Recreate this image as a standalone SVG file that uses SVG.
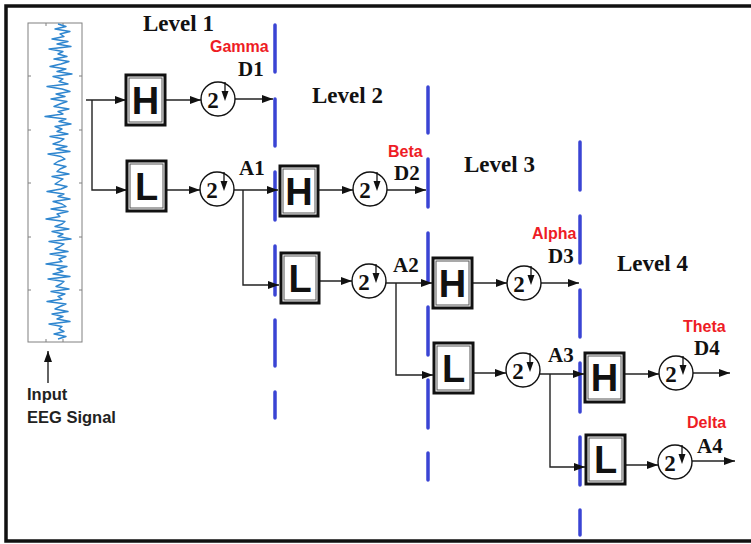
<svg xmlns="http://www.w3.org/2000/svg" width="751" height="544" viewBox="0 0 751 544">
<style>
.frame{fill:none;stroke:#111;stroke-width:3.5}
.dash{fill:none;stroke:#3a44d4;stroke-width:3.5;stroke-linecap:round}
.conn{fill:none;stroke:#222;stroke-width:1.4}
.boxo{fill:#fff;stroke:#111;stroke-width:3}
.boxi{fill:none;stroke:#555;stroke-width:1}
.let{font-family:"Liberation Sans",Arial,sans-serif;font-weight:bold;font-size:38px;fill:#111;text-anchor:middle}
.circ{fill:#fff;stroke:#111;stroke-width:1.4}
.two{font-family:"Liberation Serif","Times New Roman",serif;font-weight:bold;font-size:23px;fill:#111;text-anchor:middle}
.lvl{font-family:"Liberation Serif","Times New Roman",serif;font-weight:bold;font-size:23px;fill:#111}
.lab{font-family:"Liberation Serif","Times New Roman",serif;font-weight:bold;font-size:21px;fill:#111}
.band{font-family:"Liberation Sans",Arial,sans-serif;font-weight:bold;font-size:16px;fill:#ee1c25}
.inp{font-family:"Liberation Sans",Arial,sans-serif;font-weight:bold;font-size:16.5px;fill:#222}
.axis{fill:#fff;stroke:#808080;stroke-width:1}
.tick{stroke:#808080;stroke-width:1}
.sig{fill:none;stroke:#2f86cf;stroke-width:1.4;stroke-linejoin:round}
</style>
<defs>
<marker id="ah" markerUnits="userSpaceOnUse" markerWidth="11" markerHeight="8" refX="11" refY="4" orient="auto">
<path d="M0,0 L11,4 L0,8 Z" fill="#111"/>
</marker>
<g id="ds">
<circle class="circ" cx="0" cy="0" r="17"/>
<text class="two" x="-5" y="9">2</text>
<line x1="7" y1="-17" x2="7" y2="-4" stroke="#111" stroke-width="1.3"/>
<path d="M3.5,-8 L10.5,-8 L7,2 Z" fill="#111"/>
</g>
</defs>
<rect width="751" height="544" fill="#fff"/>
<path class="frame" d="M760,6 H6 V541 H760"/>

<g id="eeg-plot">
<rect class="axis" x="28" y="23" width="54" height="319"/>
<path class="tick" d="M28,76h3M28,130h3M28,183h3M28,237h3M28,290h3M82,76h-3M82,130h-3M82,183h-3M82,237h-3M82,290h-3M46,342v-3M63,342v-3M46,23v3M63,23v3"/>
<polyline class="sig" points="58,24 66,26.5 55,29 70,31.5 60,34 64,36.5 52,39 68,41.5 57,44 71,46.5 49,49 63,51.5 58,54 67,56.5 54,59 69,61.5 61,64 50,66.5 66,69 57,71.5 72,74 53,76.5 63,79 59,81.5 68,84 47,86.5 62,89 70,91.5 56,94 65,96.5 51,99 67,101.5 60,104 54,106.5 69,109 58,111.5 63,114 45,116.5 66,119 59,121.5 71,124 55,126.5 62,129 57,131.5 68,134 50,136.5 64,139 60,141.5 53,144 67,146.5 56,149 70,151.5 48,154 61,156.5 65,159 58,161.5 54,164 66,166.5 60,169 57,171.5 69,174 52,176.5 63,179 59,181.5 55,184 67,186.5 61,189 47,191.5 64,194 58,196.5 70,199 53,201.5 62,204 66,206.5 51,209 68,211.5 57,214 60,216.5 46,219 65,221.5 62,224 55,226.5 69,229 52,231.5 63,234 58,236.5 71,239 49,241.5 64,244 60,246.5 55,249 68,251.5 50,254 66,256.5 59,259 62,261.5 46,264 67,266.5 57,269 63,271.5 53,274 70,276.5 48,279 64,281.5 61,284 56,286.5 69,289 51,291.5 65,294 58,296.5 62,299 47,301.5 66,304 60,306.5 55,309 68,311.5 52,314 63,316.5 57,319 70,321.5 49,324 62,326.5 59,329 64,331.5 54,334 66,336.5 58,339"/>
</g>

<g id="dashed-dividers">
<path class="dash" d="M275,25V72M275,99V146M275,172V220M275,246V295M275,320V366M275,392V418"/>
<path class="dash" d="M428,87V133M428,159V207M428,233V282M428,307V355M428,380V428M428,453V480"/>
<path class="dash" d="M580,142V190M580,216V263M580,290V337M580,363V412M580,437V485M580,510V535"/>
</g>

<g id="connectors">
<path class="conn" d="M48,383 V351" marker-end="url(#ah)"/>
<path class="conn" d="M86,100 H126" marker-end="url(#ah)"/>
<path class="conn" d="M92,100 V190 H127" marker-end="url(#ah)"/>
<path class="conn" d="M165,100 H201" marker-end="url(#ah)"/>
<path class="conn" d="M235,99 H273" marker-end="url(#ah)"/>
<path class="conn" d="M166,190 H200" marker-end="url(#ah)"/>
<path class="conn" d="M234,190 H278" marker-end="url(#ah)"/>
<path class="conn" d="M243,190 V285 H279" marker-end="url(#ah)"/>
<path class="conn" d="M318,190 H353" marker-end="url(#ah)"/>
<path class="conn" d="M387,190 H426" marker-end="url(#ah)"/>
<path class="conn" d="M319,281 H352" marker-end="url(#ah)"/>
<path class="conn" d="M386,283 H432" marker-end="url(#ah)"/>
<path class="conn" d="M396,283 V375 H433" marker-end="url(#ah)"/>
<path class="conn" d="M472,283 H507" marker-end="url(#ah)"/>
<path class="conn" d="M541,283 H579" marker-end="url(#ah)"/>
<path class="conn" d="M473,373 H506" marker-end="url(#ah)"/>
<path class="conn" d="M540,374 H584" marker-end="url(#ah)"/>
<path class="conn" d="M550,374 V467 H585" marker-end="url(#ah)"/>
<path class="conn" d="M624,374 H659" marker-end="url(#ah)"/>
<path class="conn" d="M693,373 H730" marker-end="url(#ah)"/>
<path class="conn" d="M625,465 H658" marker-end="url(#ah)"/>
<path class="conn" d="M692,461 H735" marker-end="url(#ah)"/>
</g>

<g id="H1"><rect class="boxo" x="126" y="75" width="39" height="50"/><rect class="boxi" x="129" y="78" width="33" height="44"/><text class="let" x="145.5" y="114">H</text></g>
<g id="L1"><rect class="boxo" x="127" y="161" width="39" height="50"/><rect class="boxi" x="130" y="164" width="33" height="44"/><text class="let" x="146.5" y="200">L</text></g>
<g id="H2"><rect class="boxo" x="280" y="166" width="38" height="50"/><rect class="boxi" x="283" y="169" width="32" height="44"/><text class="let" x="299" y="205">H</text></g>
<g id="L2"><rect class="boxo" x="281" y="253" width="38" height="50"/><rect class="boxi" x="284" y="256" width="32" height="44"/><text class="let" x="300" y="292">L</text></g>
<g id="H3"><rect class="boxo" x="433" y="258" width="39" height="50"/><rect class="boxi" x="436" y="261" width="33" height="44"/><text class="let" x="452.5" y="297">H</text></g>
<g id="L3"><rect class="boxo" x="434" y="343" width="39" height="50"/><rect class="boxi" x="437" y="346" width="33" height="44"/><text class="let" x="453.5" y="382">L</text></g>
<g id="H4"><rect class="boxo" x="585" y="353" width="39" height="49"/><rect class="boxi" x="588" y="356" width="33" height="43"/><text class="let" x="604.5" y="391">H</text></g>
<g id="L4"><rect class="boxo" x="586" y="435" width="39" height="49"/><rect class="boxi" x="589" y="438" width="33" height="43"/><text class="let" x="605.5" y="473">L</text></g>

<g id="DS1"><use href="#ds" x="218" y="99"/></g>
<g id="DS2"><use href="#ds" x="217" y="189"/></g>
<g id="DS3"><use href="#ds" x="370" y="189"/></g>
<g id="DS4"><use href="#ds" x="369" y="281"/></g>
<g id="DS5"><use href="#ds" x="524" y="283"/></g>
<g id="DS6"><use href="#ds" x="523" y="370"/></g>
<g id="DS7"><use href="#ds" x="676" y="373"/></g>
<g id="DS8"><use href="#ds" x="675" y="462"/></g>

<g id="labels">
<text class="lvl" x="143" y="31">Level 1</text>
<text class="lvl" x="312" y="103">Level 2</text>
<text class="lvl" x="464" y="172">Level 3</text>
<text class="lvl" x="617" y="271">Level 4</text>
<text class="band" x="210" y="52">Gamma</text>
<text class="lab" x="238" y="76">D1</text>
<text class="lab" x="239" y="175">A1</text>
<text class="band" x="388" y="157">Beta</text>
<text class="lab" x="394" y="180">D2</text>
<text class="lab" x="393" y="272">A2</text>
<text class="band" x="532" y="239">Alpha</text>
<text class="lab" x="548" y="263">D3</text>
<text class="lab" x="548" y="362">A3</text>
<text class="band" x="683" y="332">Theta</text>
<text class="lab" x="694" y="355">D4</text>
<text class="band" x="687" y="428">Delta</text>
<text class="lab" x="697" y="453">A4</text>
<text class="inp" x="27" y="400">Input</text>
<text class="inp" x="27" y="423">EEG Signal</text>
</g>
</svg>
